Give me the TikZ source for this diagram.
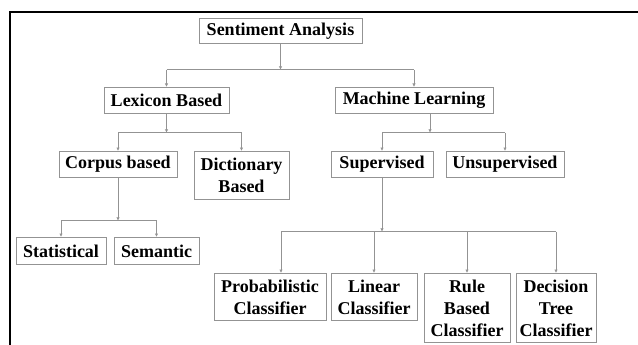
\documentclass[tikz,border=0pt]{standalone}
\usepackage{fontspec}
\setmainfont{Liberation Serif}
\usetikzlibrary{arrows.meta}
\begin{document}
\begin{tikzpicture}[x=1pt,y=-1pt,
  box/.style={draw=gray!85,line width=0.8pt,font=\fontsize{18}{22}\selectfont\bfseries,align=center,inner sep=0pt,anchor=north},
  line/.style={draw=gray!85,line width=0.8pt},
  arr/.style={line,-{Latex[length=3.5pt,width=3.5pt]}}]
\useasboundingbox (0,0) rectangle (638,345);
\draw[line width=2pt] (10,345) |- (638,11.7);
\node[box,minimum width=163pt,minimum height=25pt] (sa) at (280.5,18) {Sentiment Analysis};
\node[box,minimum width=125pt,minimum height=26pt] (lex) at (166.5,87) {Lexicon Based};
\node[box,minimum width=158pt,minimum height=26pt] (ml) at (414,87) {Machine Learning};
\node[box,minimum width=118pt,minimum height=26pt] (corpus) at (118,151) {Corpus based};
\node[box,minimum width=95pt,minimum height=48pt] (dict) at (241.5,151) {Dictionary\\Based};
\node[box,minimum width=102pt,minimum height=26pt] (sup) at (382,151) {Supervised};
\node[box,minimum width=118pt,minimum height=26pt] (unsup) at (505,151) {Unsupervised};
\node[box,minimum width=90pt,minimum height=27pt] (stat) at (61,237) {Statistical};
\node[box,minimum width=85pt,minimum height=27pt] (sem) at (156.5,237) {Semantic};
\node[box,minimum width=112pt,minimum height=47pt] (prob) at (270,273) {Probabilistic\\Classifier};
\node[box,minimum width=86pt,minimum height=47pt] (lin) at (374,273) {Linear\\Classifier};
\node[box,minimum width=86pt,minimum height=69pt] (rule) at (467,273) {Rule\\Based\\Classifier};
\node[box,minimum width=80pt,minimum height=69pt] (dec) at (556,273) {Decision\\Tree\\Classifier};
\draw[arr] (sa.south) -- ++(0,26) coordinate (j1);
\draw[line] (lex.north |- j1) -- (ml.north |- j1);
\draw[arr] (lex.north |- j1) -- (lex.north);
\draw[arr] (ml.north |- j1) -- (ml.north);
\draw[arr] (lex.south) -- ++(0,19) coordinate (j2);
\draw[line] (corpus.north |- j2) -- (dict.north |- j2);
\draw[arr] (corpus.north |- j2) -- (corpus.north);
\draw[arr] (dict.north |- j2) -- (dict.north);
\draw[arr] ([xshift=16pt]ml.south) -- ++(0,19) coordinate (j3);
\draw[line] (sup.north |- j3) -- (unsup.north |- j3);
\draw[arr] (sup.north |- j3) -- (sup.north);
\draw[arr] (unsup.north |- j3) -- (unsup.north);
\draw[arr] (corpus.south) -- ++(0,43) coordinate (j4);
\draw[line] (stat.north |- j4) -- (sem.north |- j4);
\draw[arr] (stat.north |- j4) -- (stat.north);
\draw[arr] (sem.north |- j4) -- (sem.north);
\draw[arr] (sup.south) -- ++(0,54) coordinate (j5);
\draw[line] ([xshift=11pt]prob.north |- j5) -- (dec.north |- j5);
\draw[arr] ([xshift=11pt]prob.north |- j5) -- ([xshift=11pt]prob.north);
\foreach \n in {lin,rule,dec}
  \draw[arr] (\n.north |- j5) -- (\n.north);
\end{tikzpicture}
\end{document}
